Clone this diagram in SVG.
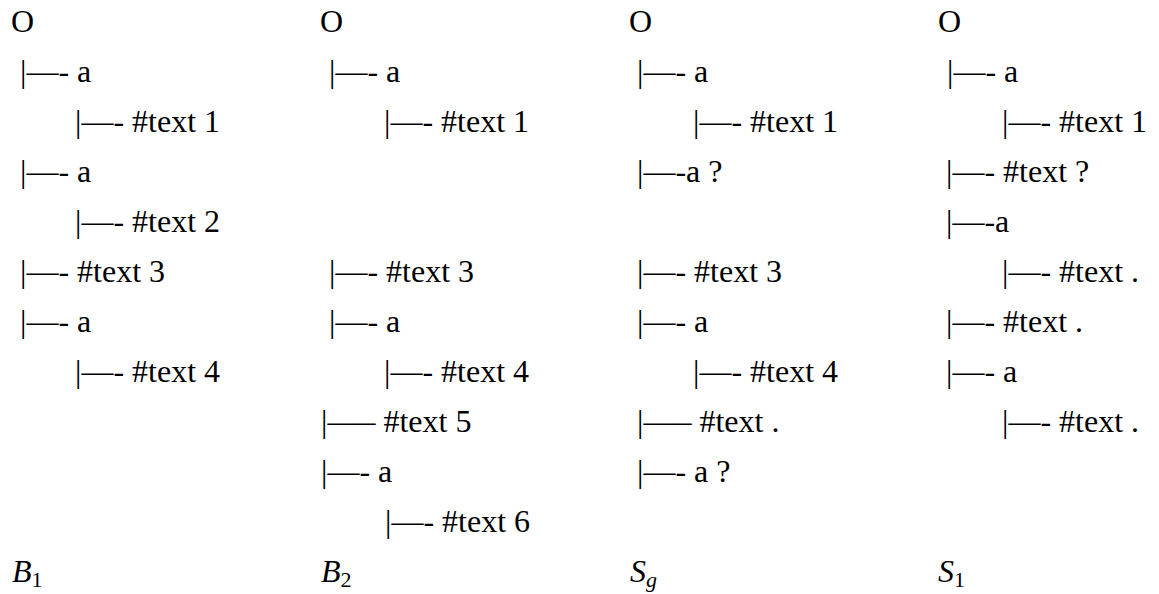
<svg xmlns="http://www.w3.org/2000/svg" width="1159" height="594" viewBox="0 0 1159 594">
<style>
text{font-family:"Liberation Serif","DejaVu Serif",serif;font-size:32px;fill:#000}
.lbl{font-style:italic}
.sub{font-size:22px;font-style:normal}
.subi{font-size:22px}
</style>
<rect width="1159" height="594" fill="#fff"/>
<g id="tree-B1">
<text x="11" y="32">O</text>
<text x="20" y="82">|—- a</text>
<text x="75" y="132">|—- #text 1</text>
<text x="20" y="182">|—- a</text>
<text x="75" y="232">|—- #text 2</text>
<text x="20" y="282">|—- #text 3</text>
<text x="20" y="332">|—- a</text>
<text x="75" y="382">|—- #text 4</text>
<text class="lbl" x="12" y="582">B<tspan class="sub" dy="5">1</tspan></text>
</g>
<g id="tree-B2">
<text x="320" y="32">O</text>
<text x="329" y="82">|—- a</text>
<text x="384" y="132">|—- #text 1</text>
<text x="329" y="282">|—- #text 3</text>
<text x="329" y="332">|—- a</text>
<text x="384" y="382">|—- #text 4</text>
<text x="321" y="432">|—– #text 5</text>
<text x="321" y="482">|—- a</text>
<text x="385" y="532">|—- #text 6</text>
<text class="lbl" x="321" y="582">B<tspan class="sub" dy="5">2</tspan></text>
</g>
<g id="tree-Sg">
<text x="629" y="32">O</text>
<text x="637" y="82">|—- a</text>
<text x="693" y="132">|—- #text 1</text>
<text x="637" y="182">|—-a ?</text>
<text x="637" y="282">|—- #text 3</text>
<text x="637" y="332">|—- a</text>
<text x="693" y="382">|—- #text 4</text>
<text x="637" y="432">|—– #text .</text>
<text x="637" y="482">|—- a ?</text>
<text class="lbl" x="630" y="582">S<tspan class="subi" dy="5">g</tspan></text>
</g>
<g id="tree-S1">
<text x="938" y="32">O</text>
<text x="947" y="82">|—- a</text>
<text x="1002" y="132">|—- #text 1</text>
<text x="946" y="182">|—- #text ?</text>
<text x="946" y="232">|—-a</text>
<text x="1002" y="282">|—- #text .</text>
<text x="946" y="332">|—- #text .</text>
<text x="946" y="382">|—- a</text>
<text x="1002" y="432">|—- #text .</text>
<text class="lbl" x="938" y="582">S<tspan class="sub" dy="5">1</tspan></text>
</g>
<g id="connectors"></g>
</svg>
